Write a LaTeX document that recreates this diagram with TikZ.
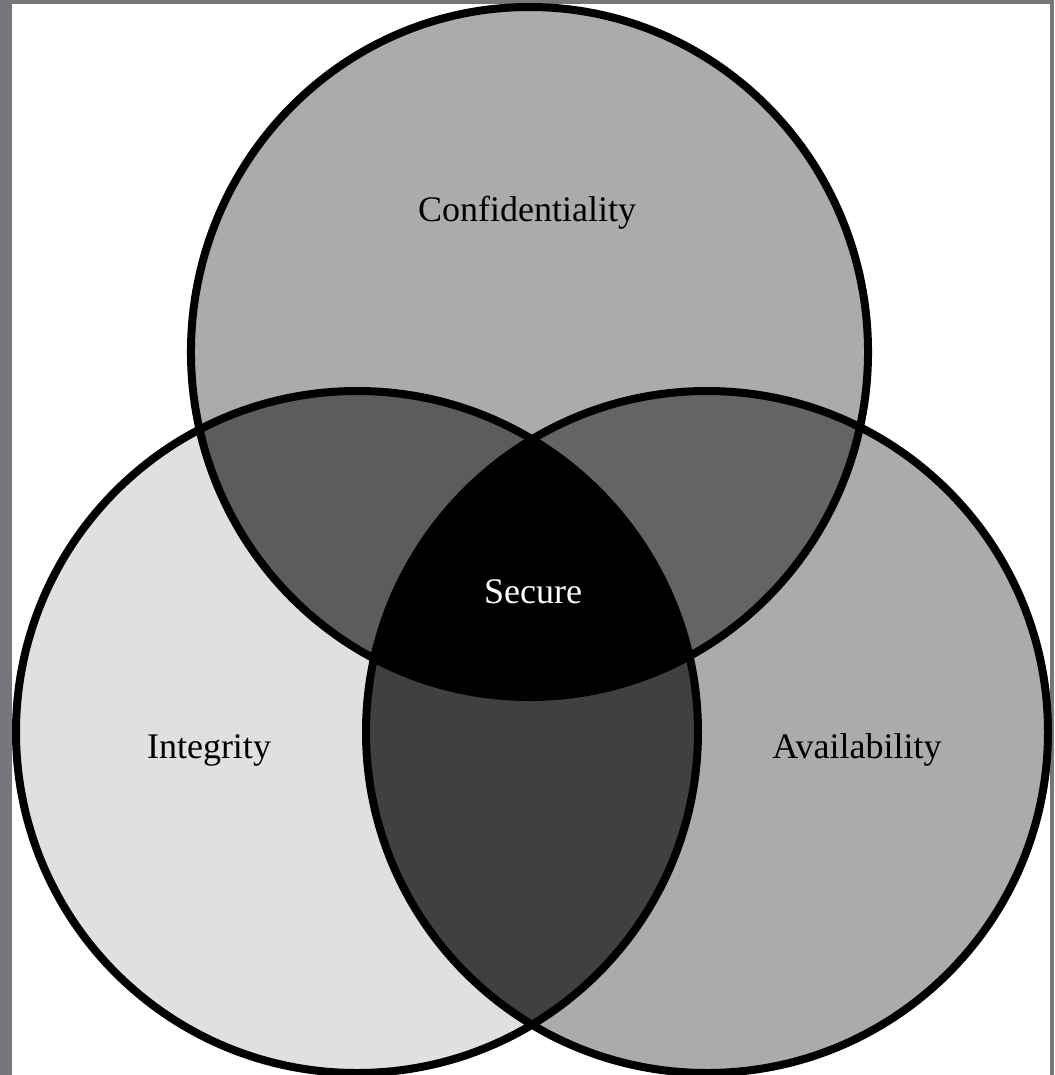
\documentclass[tikz,border=0pt]{standalone}
\usepackage{fontspec}
\setmainfont{Liberation Serif}
\definecolor{frame}{HTML}{78767A}
\definecolor{cTop}{HTML}{ABABAB}
\definecolor{cLeft}{HTML}{E0E0E0}
\definecolor{cRight}{HTML}{ABABAB}
\definecolor{cTL}{HTML}{5C5C5C}
\definecolor{cTR}{HTML}{646464}
\definecolor{cLR}{HTML}{404040}
\tikzset{
  ring/.style={draw=black, line width=6pt},
  lbl/.style={font=\fontsize{27}{32}\selectfont, text=black, inner sep=0pt},
}
\begin{document}
\begin{tikzpicture}[x=0.75pt,y=-0.75pt]
\useasboundingbox (0,0) rectangle (1054,1075);
\fill[frame] (0,0) rectangle (1054,1075);
\fill[white] (12,4) rectangle (1050,1075);
\coordinate (cT) at (529.5,352);
\coordinate (cL) at (357,732);
\coordinate (cR) at (707,732);
\def\pathT{(cT) ellipse [x radius=253.9pt, y radius=258.75pt]}
\def\pathL{(cL) circle [radius=255.75pt]}
\def\pathR{(cR) circle [radius=255.75pt]}
% single fills
\fill[cTop] \pathT;
\fill[cLeft] \pathL;
\fill[cRight] \pathR;
% pair overlaps
\begin{scope}\clip \pathT; \fill[cTL] \pathL; \end{scope}
\begin{scope}\clip \pathT; \fill[cTR] \pathR; \end{scope}
\begin{scope}\clip \pathL; \fill[cLR] \pathR; \end{scope}
% triple overlap
\begin{scope}\clip \pathT; \clip \pathL; \fill[black] \pathR; \end{scope}
% outlines
\draw[ring] \pathT;
\draw[ring] \pathL;
\draw[ring] \pathR;
% labels
\node[lbl] (conf) at (527,213) {Confidentiality};
\node[lbl] (integ) at (209,750) {Integrity};
\node[lbl] (avail) at (857,750) {Availability};
\node[lbl, text=white] (secure) at (533,592) {Secure};
\end{tikzpicture}
\end{document}
